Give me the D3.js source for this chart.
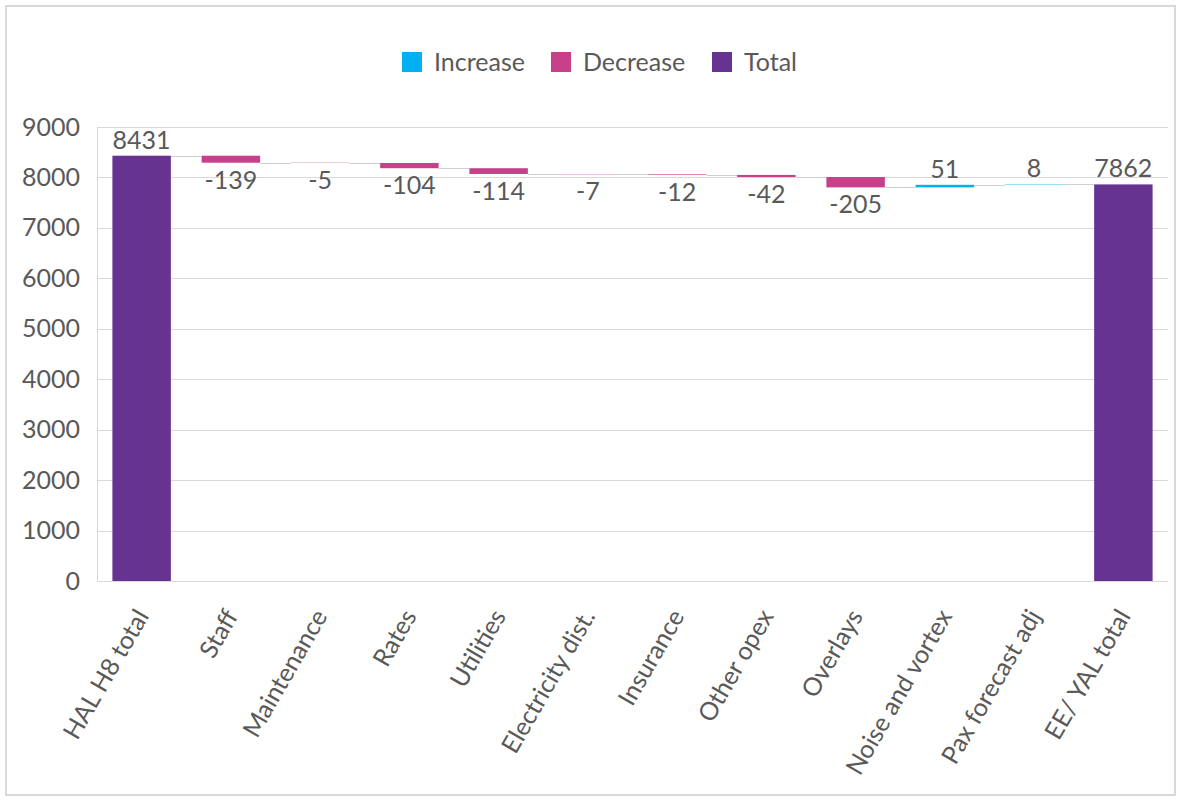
<!DOCTYPE html>
<html>
<head>
<meta charset="utf-8">
<script src="https://cdn.jsdelivr.net/npm/d3@7"></script>
<style>
  html, body { margin: 0; padding: 0; background: #fff; }
  svg { display: block; }
  text { font-family: Lato, "Open Sans", sans-serif; fill: #595959; }
</style>
</head>
<body>
<svg id="chart" width="1181" height="801"></svg>
<script>
const categories = ["HAL H8 total", "Staff", "Maintenance", "Rates", "Utilities", "Electricity dist.",
  "Insurance", "Other opex", "Overlays", "Noise and vortex", "Pax forecast adj", "EE/ YAL total"];
const values = [8431, -139, -5, -104, -114, -7, -12, -42, -205, 51, 8, 7862];
const isTotal = [true, false, false, false, false, false, false, false, false, false, false, true];
const yTicks = [0, 1000, 2000, 3000, 4000, 5000, 6000, 7000, 8000, 9000];
const legendLabels = ["Increase", "Decrease", "Total"];
const colors = { Increase: "#00B0F0", Decrease: "#C9408A", Total: "#663390" };

const svg = d3.select("#chart");
const W = 1181, H = 801;
const plot = { left: 97, right: 1168, top: 127, bottom: 581 };
const FS = 25;

// outer frame
svg.append("rect").attr("x", 6).attr("y", 6).attr("width", W - 12).attr("height", H - 12)
  .attr("fill", "#fff").attr("stroke", "#D9D9D9").attr("stroke-width", 2);

// compute waterfall
let running = 0;
const bars = categories.map((c, i) => {
  let start, end, kind;
  if (isTotal[i]) { start = 0; end = values[i]; running = values[i]; kind = "Total"; }
  else { start = running; end = running + values[i]; running = end; kind = values[i] >= 0 ? "Increase" : "Decrease"; }
  return { cat: c, value: values[i], start, end, kind, level: running };
});

const x = d3.scaleBand().domain(categories).range([plot.left, plot.right])
  .paddingInner(0.345).paddingOuter(0.1725);
const y = d3.scaleLinear().domain([0, 9000]).range([plot.bottom, plot.top]);

// gridlines
svg.append("g").selectAll("line").data(yTicks.filter(d => d > 0)).join("line")
  .attr("x1", plot.left).attr("x2", plot.right)
  .attr("y1", d => Math.round(y(d)) + 0.5).attr("y2", d => Math.round(y(d)) + 0.5)
  .attr("stroke", "#D9D9D9").attr("stroke-width", 1);
// left axis line
svg.append("line").attr("x1", plot.left + 0.5).attr("x2", plot.left + 0.5)
  .attr("y1", plot.top).attr("y2", plot.bottom).attr("stroke", "#D9D9D9");

// y axis labels
const yAxis = d3.axisLeft(y).tickValues(yTicks).tickSize(0).tickPadding(17).tickFormat(d3.format("d"));
const gy = svg.append("g").attr("transform", `translate(${plot.left},0)`).call(yAxis);
gy.select(".domain").remove();
gy.selectAll("text").style("font-size", FS + "px").attr("fill", "#595959")
  .style("font-family", "Lato, 'Open Sans', sans-serif");

// connectors
const conn = bars.slice(0, -1).map((b, i) => ({ x1: x(b.cat) + x.bandwidth(), x2: x(categories[i + 1]), v: b.level }));
svg.append("g").selectAll("line").data(conn).join("line")
  .attr("x1", d => d.x1).attr("x2", d => d.x2)
  .attr("y1", d => Math.round(y(d.v)) + 0.5).attr("y2", d => Math.round(y(d.v)) + 0.5)
  .attr("stroke", "#D0D0D0").attr("stroke-width", 1);

// bars
svg.append("g").selectAll("rect").data(bars).join("rect")
  .attr("x", d => x(d.cat)).attr("width", x.bandwidth())
  .attr("y", d => y(Math.max(d.start, d.end)))
  .attr("height", d => Math.abs(y(d.start) - y(d.end)))
  .attr("fill", d => colors[d.kind]);

// x axis line
svg.append("line").attr("x1", plot.left).attr("x2", plot.right)
  .attr("y1", plot.bottom + 0.5).attr("y2", plot.bottom + 0.5).attr("stroke", "#D9D9D9");

// data labels
svg.append("g").selectAll("text").data(bars).join("text")
  .attr("x", d => x(d.cat) + x.bandwidth() / 2)
  .attr("y", d => d.kind === "Decrease" ? y(d.end) + 26 : y(Math.max(d.start, d.end)) - 7)
  .attr("text-anchor", "middle").style("font-size", FS + "px")
  .text(d => d.value);

// category labels
svg.append("g").selectAll("text").data(categories).join("text")
  .attr("transform", d => `translate(${x(d) + x.bandwidth() / 2 + 8},${plot.bottom + 35}) rotate(-60)`)
  .attr("text-anchor", "end").style("font-size", FS + "px")
  .text(d => d);

// legend
const legend = svg.append("g");
const legX = [402, 551, 712];
legendLabels.forEach((l, i) => {
  legend.append("rect").attr("x", legX[i]).attr("y", 52).attr("width", 20).attr("height", 20).attr("fill", colors[l]);
  legend.append("text").attr("x", legX[i] + 32).attr("y", 71).style("font-size", FS + "px").text(l);
});
</script>
</body>
</html>
